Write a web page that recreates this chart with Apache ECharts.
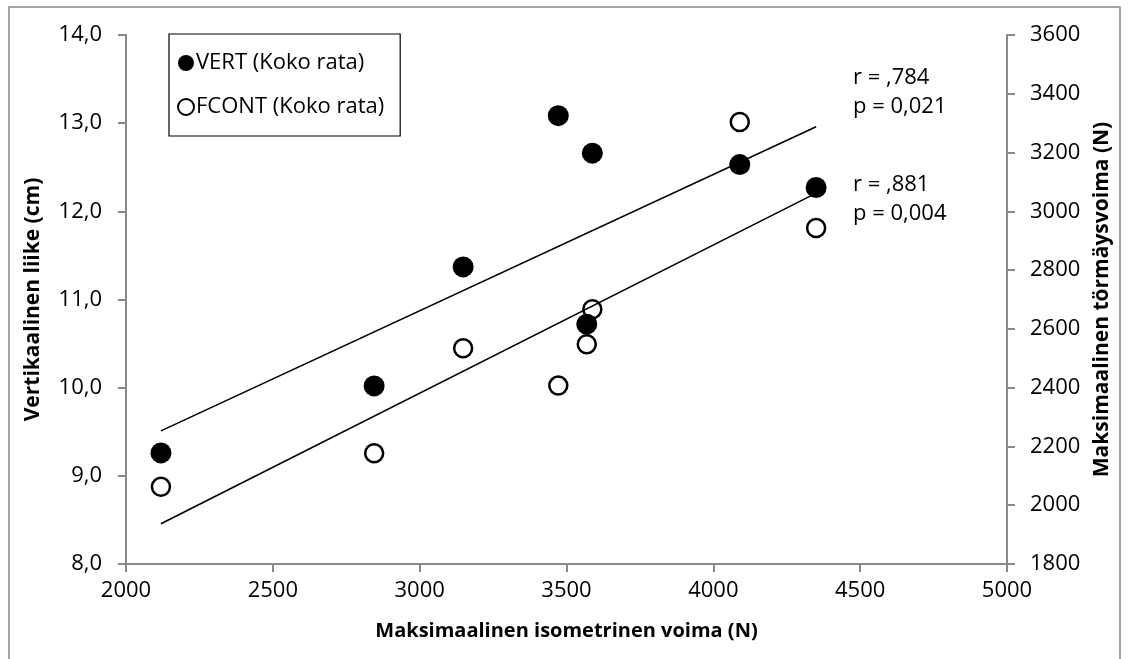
<!DOCTYPE html>
<html>
<head>
<meta charset="utf-8">
<script src="https://cdn.jsdelivr.net/npm/echarts@6/dist/echarts.min.js"></script>
<style>
html,body{margin:0;padding:0;background:#fff;}
#chart{width:1128px;height:659px;}
</style>
</head>
<body>
<div id="chart"></div>
<script>
// ---- data ----
const xForce = [2119, 2845, 3148, 3472, 3569, 3588, 4090, 4350];
const vertValues = [9.26, 10.02, 11.37, 13.085, 10.72, 12.66, 12.53, 12.27];
const fcontValues = [2063, 2177, 2534, 2407, 2548, 2667, 3304, 2943];
const trendX = [2119, 4350];
const vertTrendY = [9.51, 12.96];
const fcontTrendY = [1937, 3062];
const seriesNames = ['VERT (Koko rata)', 'FCONT (Koko rata)'];
const xAxisTitle = 'Maksimaalinen isometrinen voima (N)';
const leftAxisTitle = 'Vertikaalinen liike (cm)';
const rightAxisTitle = 'Maksimaalinen törmäysvoima (N)';
const vertStats = ['r = ,784', 'p = 0,021'];
const fcontStats = ['r = ,881', 'p = 0,004'];

const pairs = (xs, ys) => xs.map((x, i) => [x, ys[i]]);
const FONT = '"Open Sans", sans-serif';
const axisGray = '#898989';

const chart = echarts.init(document.getElementById('chart'), null, {renderer: 'canvas'});
chart.setOption({
  animation: false,
  backgroundColor: '#ffffff',
  textStyle: {fontFamily: FONT, color: '#000'},
  grid: {left: 126, right: 121, top: 35, bottom: 95, containLabel: false},
  legend: {
    orient: 'vertical',
    left: 169, top: 34,
    padding: [18, 16, 18, 8],
    itemGap: 22,
    itemWidth: 16, itemHeight: 16,
    borderColor: '#000', borderWidth: 1.2,
    backgroundColor: '#fff',
    data: [
      {name: seriesNames[0], icon: 'circle', itemStyle: {color: '#000', borderWidth: 0}},
      {name: seriesNames[1], icon: 'circle', itemStyle: {color: '#fff', borderColor: '#000', borderWidth: 2}}
    ],
    textStyle: {fontFamily: FONT, fontSize: 22, color: '#000', padding: [0, 0, 0, -3]}
  },
  xAxis: {
    type: 'value', min: 2000, max: 5000, interval: 500,
    name: xAxisTitle, nameLocation: 'middle', nameGap: 57,
    nameTextStyle: {fontFamily: FONT, fontSize: 20, fontWeight: 'bold', color: '#000'},
    axisLine: {show: true, onZero: false, lineStyle: {color: axisGray, width: 2}},
    axisTick: {show: true, inside: false, length: 8, lineStyle: {color: axisGray, width: 2}},
    axisLabel: {fontFamily: FONT, fontSize: 22, color: '#000', margin: 16,
      formatter: v => String(v)},
    splitLine: {show: false}
  },
  yAxis: [
    {
      type: 'value', position: 'left', min: 8, max: 14, interval: 1,
      name: leftAxisTitle, nameLocation: 'middle', nameGap: 82,
      nameTextStyle: {fontFamily: FONT, fontSize: 21, fontWeight: 'bold', color: '#000'},
      axisLine: {show: true, onZero: false, lineStyle: {color: axisGray, width: 2}},
      axisTick: {show: true, inside: false, length: 8, lineStyle: {color: axisGray, width: 2}},
      axisLabel: {fontFamily: FONT, fontSize: 22, color: '#000', margin: 24,
        formatter: v => v.toFixed(1).replace('.', ',')},
      splitLine: {show: false}
    },
    {
      type: 'value', position: 'right', min: 1800, max: 3600, interval: 200,
      name: rightAxisTitle, nameLocation: 'middle', nameGap: 84,
      nameTextStyle: {fontFamily: FONT, fontSize: 21, fontWeight: 'bold', color: '#000'},
      axisLine: {show: true, onZero: false, lineStyle: {color: axisGray, width: 2}},
      axisTick: {show: true, inside: false, length: 8, lineStyle: {color: axisGray, width: 2}},
      axisLabel: {fontFamily: FONT, fontSize: 22, color: '#000', margin: 23,
        formatter: v => String(v)},
      splitLine: {show: false}
    }
  ],
  graphic: [
    {type: 'rect', z: -10, silent: true,
     shape: {x: 9, y: 7, width: 1111, height: 700},
     style: {fill: 'none', stroke: '#888888', lineWidth: 1.5}},
    {type: 'text', x: 853, y: 63, z: 10,
     style: {text: vertStats.join('\n'), fontFamily: FONT, fontSize: 22, lineHeight: 29, fill: '#000'}},
    {type: 'text', x: 853, y: 170, z: 10,
     style: {text: fcontStats.join('\n'), fontFamily: FONT, fontSize: 22, lineHeight: 29, fill: '#000'}}
  ],
  series: [
    {
      name: seriesNames[1], type: 'scatter', yAxisIndex: 1,
      symbol: 'circle', symbolSize: 18,
      itemStyle: {color: '#fff', borderColor: '#000', borderWidth: 2.5, opacity: 1},
      data: pairs(xForce, fcontValues), z: 2
    },
    {
      name: seriesNames[0], type: 'scatter', yAxisIndex: 0,
      symbol: 'circle', symbolSize: 21,
      itemStyle: {color: '#000', opacity: 1},
      data: pairs(xForce, vertValues), z: 3
    },
    {
      name: 'VERT trend', type: 'line', yAxisIndex: 0, showSymbol: false, symbol: 'none',
      lineStyle: {color: '#000', width: 1.6}, data: pairs(trendX, vertTrendY), z: 4, silent: true
    },
    {
      name: 'FCONT trend', type: 'line', yAxisIndex: 1, showSymbol: false, symbol: 'none',
      lineStyle: {color: '#000', width: 1.6}, data: pairs(trendX, fcontTrendY), z: 4, silent: true
    }
  ]
});
</script>
</body>
</html>
